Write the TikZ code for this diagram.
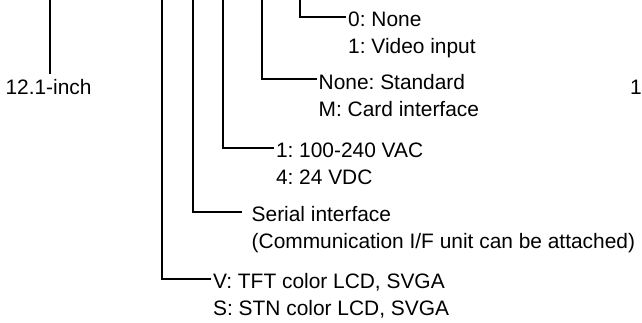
\documentclass[tikz,border=0pt]{standalone}
\usepackage{fontspec}
\setmainfont{Liberation Sans}
\usepackage{tikz}
\usetikzlibrary{positioning}
\newcommand{\lblfont}{\fontsize{20.9pt}{27pt}\selectfont\frenchspacing}

\begin{document}
\begin{tikzpicture}[x=1pt,y=-1pt,font=\lblfont,
  lbl/.style={anchor=north west,inner xsep=2pt,inner ysep=0pt,align=left},
  lead/.style={line width=2pt,line cap=butt}]
\useasboundingbox (0,0) rectangle (642,323);
% upper ends of the leader lines
\coordinate (tinch) at (50,0);
\coordinate (tvid) at (300,0);
\coordinate (tcard) at (261.7,0);
\coordinate (tpow) at (223.3,0);
\coordinate (tser) at (193.3,0);
\coordinate (tlcd) at (161.7,0);
% labels
\node[anchor=base,inner sep=0pt] (inch) at (48.5,95) {12.1-inch};
\node[anchor=base west,inner sep=0pt] (nxt) at (629.8,94.5) {1};
\node[lbl] (vid) at (346,12) {0: None\\1: Video input};
\node[lbl] (card) at (316.5,74) {None: Standard\\M: Card interface};
\node[lbl] (pow) at (273.8,142.5) {1: 100-240 VAC\\4: 24 VDC};
\node[lbl] (ser) at (249.5,206) {Serial interface\\(Communication I/F unit can be attached)};
\node[lbl] (lcd) at (211,273) {V: TFT color LCD, SVGA\\S: STN color LCD, SVGA};
% leaders
\draw[lead,shorten >=6pt] (tinch) -- (tinch |- inch.north);
\draw[lead] (tvid) |- ([yshift=-5.5pt]vid.north west);
\draw[lead] (tcard) |- ([yshift=-5.5pt]card.north west);
\draw[lead] (tpow) |- ([yshift=-5.5pt]pow.north west);
\draw[lead,shorten >=8pt] (tser) |- ([yshift=-5.5pt]ser.north west);
\draw[lead] (tlcd) |- ([yshift=-5.5pt]lcd.north west);
\end{tikzpicture}
\end{document}
